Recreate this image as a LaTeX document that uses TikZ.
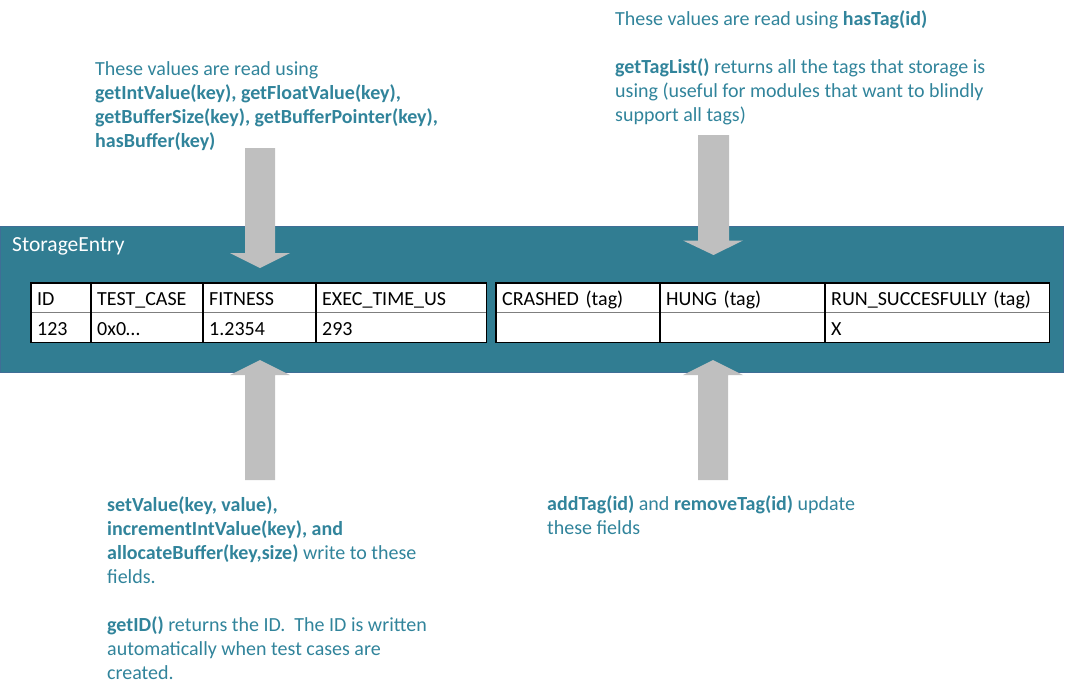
\documentclass[tikz,border=0pt]{standalone}
\usepackage{fontspec}
\setmainfont{Carlito}
\definecolor{boxteal}{HTML}{317D92}
\definecolor{boxedge}{HTML}{3F6E96}
\definecolor{txteal}{HTML}{31849B}
\definecolor{arrowgray}{HTML}{BFBFBF}
\definecolor{midline}{HTML}{7F7F7F}
\tikzset{
  note/.style={anchor=base west, inner sep=0pt, align=left, text=txteal,
    font=\fontsize{20}{24}\selectfont},
  cell/.style={anchor=north west, inner sep=0pt, fill=white, minimum height=29.5pt,
    text height=17pt, text depth=1.6pt, align=left, text=black,
    font=\fontsize{20}{24}\selectfont},
  blockarrow/.style={fill=arrowgray, draw=none},
  tline/.style={draw=black, line width=1.2pt},
}
\newcommand{\cellat}[5]{% name, x, y, width, text
  \node[cell, minimum width=#4pt, text width=#4pt] (#1) at (#2,#3) {\hspace*{6pt}#5};}
\begin{document}
\begin{tikzpicture}[x=1pt,y=-1pt]
\useasboundingbox (0,0) rectangle (1066,696);
% container
\node[anchor=north west, inner sep=0pt, minimum width=1063pt, minimum height=146pt,
      fill=boxteal, draw=boxedge, line width=0.8pt] (entry) at (0,226) {};
\node[anchor=base west, inner sep=0pt, text=white, font=\fontsize{21.5}{24}\selectfont]
      (title) at (12,251) {StorageEntry};
% left table
\cellat{id}{31}{283}{60}{ID}
\cellat{tc}{91}{283}{112}{TEST\_CASE}
\cellat{fit}{203}{283}{113}{FITNESS}
\cellat{ex}{316}{283}{170}{EXEC\_TIME\_US}
\cellat{idv}{31}{312.5}{60}{123}
\cellat{tcv}{91}{312.5}{112}{0x0\ldots}
\cellat{fitv}{203}{312.5}{113}{1.2354}
\cellat{exv}{316}{312.5}{170}{293}
% right table
\cellat{cr}{496}{283}{164}{CRASHED (tag)}
\cellat{hu}{660}{283}{165}{HUNG (tag)}
\cellat{rs}{825}{283}{224}{RUN\_SUCCESFULLY (tag)}
\cellat{crv}{496}{312.5}{164}{}
\cellat{huv}{660}{312.5}{165}{}
\cellat{rsv}{825}{312.5}{224}{X}
% grid lines
\draw[midline, line width=1pt] (id.south west) -- (ex.south east);
\draw[midline, line width=1pt] (cr.south west) -- (rs.south east);
\draw[tline] (id.north west) rectangle (exv.south east);
\draw[tline] (tc.north west) -- (tcv.south west);
\draw[tline] (fit.north west) -- (fitv.south west);
\draw[tline] (ex.north west) -- (exv.south west);
\draw[tline] (cr.north west) rectangle (rsv.south east);
\draw[tline] (hu.north west) -- (huv.south west);
\draw[tline] (rs.north west) -- (rsv.south west);
% block arrows
\fill[blockarrow] (245,148) -- (275,148) -- (275,253) -- (290,253) -- (260,268) -- (230,253) -- (245,253) -- cycle;
\fill[blockarrow] (698,135) -- (729,135) -- (729,240.5) -- (743,240.5) -- (713.5,255) -- (683,240.5) -- (698,240.5) -- cycle;
\fill[blockarrow] (245,480) -- (275,480) -- (275,375) -- (290,375) -- (260,360) -- (230,375) -- (245,375) -- cycle;
\fill[blockarrow] (698,480) -- (728,480) -- (728,375) -- (743,375) -- (713,360) -- (683,375) -- (698,375) -- cycle;
% notes (base anchor = baseline of last line)
\node[note] (readnote) at (95,147) {These values are read using\\
  \textbf{getIntValue(key), getFloatValue(key),}\\
  \textbf{getBufferSize(key), getBufferPointer(key),}\\
  \textbf{hasBuffer(key)}};
\node[note] (tagnote) at (615,121) {These values are read using \textbf{hasTag(id)}\\[24pt]
  \textbf{getTagList()} returns all the tags that storage is\\
  using (useful for modules that want to blindly\\
  support all tags)};
\node[note] (writenote) at (107,679.5) {\textbf{setValue(key, value),}\\
  \textbf{incrementIntValue(key), and}\\
  \textbf{allocateBuffer(key,size)} write to these\\
  fields.\\[24pt]
  \textbf{getID()} returns the ID.\ \ The ID is written\\
  automatically when test cases are\\
  created.};
\node[note] (updnote) at (547,534.5) {\textbf{addTag(id)} and \textbf{removeTag(id)} update\\
  these fields};
\end{tikzpicture}
\end{document}
